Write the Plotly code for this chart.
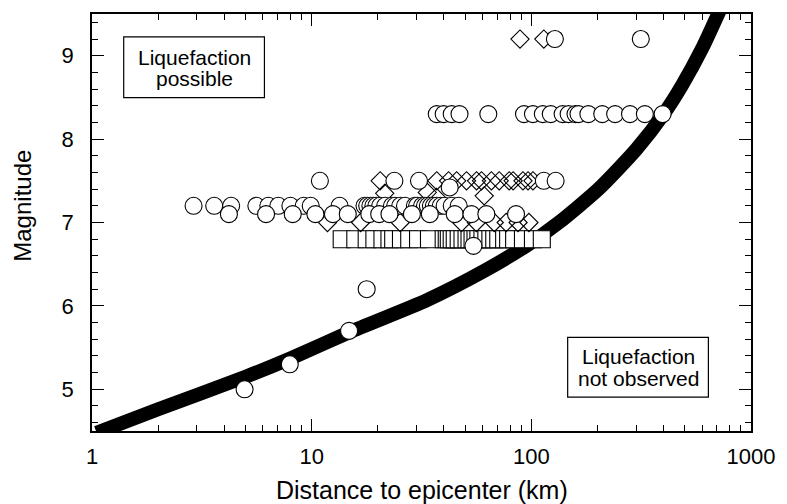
import plotly.graph_objects as go

# ---- data ----
circle_r_72 = [2.9, 3.6, 4.3, 5.6, 6.35, 7.05, 8.0, 9.2, 9.9, 13.4, 17.4, 17.9, 18.5, 19.1, 19.7,
               20.5, 21.6, 23.2, 24.0, 25.3, 26.6, 29.5, 30.2, 31.8, 32.8, 33.8, 34.9, 36.0, 37.1,
               38.7, 40.3, 43.4, 46.7]
circle_r_71 = [4.2, 6.2, 8.2, 10.4, 12.5, 14.6, 18.3, 20.3, 22.6, 28.6, 34.5, 44.8, 53.4, 62.4, 85.2]
circle_r_75 = [10.9, 23.8, 30.8, 114, 129]
circle_r_83 = [37.1, 39.9, 43.4, 47.1, 63.7, 92.6, 101.7, 112.8, 122.6, 138.8, 147.8, 158.9,
               163.9, 181.8, 210.3, 240.7, 281.3, 328.7, 396]
circle_r_other = [42.5, 128, 315, 4.95, 7.95, 14.8, 17.8, 54.5]
circle_m_other = [7.42, 9.2, 9.2, 5.0, 5.3, 5.7, 6.2, 6.72]

diamond_r_75 = [20.5, 37.1, 42.0, 45.7, 50.7, 56.3, 59.3, 65.8, 71.4, 79.3, 82.6, 91.6, 96.6, 101.7]
diamond_r_70 = [11.8, 16.7, 25.3, 48.1, 56.2, 67.8, 76.8, 87.0, 97.5]
diamond_r_other = [21.5, 33.6, 37.0, 61.0, 88.8, 114]
diamond_m_other = [7.35, 7.36, 7.3, 7.32, 9.2, 9.2]

square_r = [13.7, 15.8, 17.8, 19.3, 21.0, 22.6, 23.5, 25.5, 27.8, 30.5, 34.2, 39.9, 41.2, 42.1,
            43.4, 44.8, 46.7, 48.6, 50.7, 52.3, 54.0, 55.7, 57.4, 59.9, 62.4, 65.1, 67.8, 70.7,
            75.2, 78.4, 83.5, 91.6, 101.7, 111.6]
square_m = 6.8

curve_r = [1.05, 2, 5, 8, 15, 33.5, 61, 96, 132, 202, 301, 405, 484, 600, 720]
curve_m = [4.48, 4.76, 5.15, 5.37, 5.69, 6.07, 6.42, 6.73, 6.99, 7.40, 7.88, 8.32, 8.64, 9.09, 9.54]

x_tick_vals = [1, 10, 100, 1000]
x_tick_text = ["1", "10", "100", "1000"]
y_tick_vals = [5, 6, 7, 8, 9]

FONT = "Liberation Sans, Arial, Helvetica, sans-serif"

circ_x = circle_r_72 + circle_r_71 + circle_r_75 + circle_r_83 + circle_r_other
circ_y = ([7.2] * len(circle_r_72) + [7.1] * len(circle_r_71) + [7.5] * len(circle_r_75)
          + [8.3] * len(circle_r_83) + circle_m_other)
dia_x = diamond_r_75 + diamond_r_70 + diamond_r_other
dia_y = [7.5] * len(diamond_r_75) + [7.0] * len(diamond_r_70) + diamond_m_other

fig = go.Figure()
fig.add_trace(go.Scatter(x=curve_r, y=curve_m, mode="lines",
                         line=dict(color="black", width=14, shape="spline", smoothing=0.6),
                         hoverinfo="skip"))
fig.add_trace(go.Scatter(x=square_r, y=[square_m] * len(square_r), mode="markers",
                         marker=dict(symbol="square", size=17, color="white",
                                     line=dict(color="black", width=1.1))))
fig.add_trace(go.Scatter(x=dia_x, y=dia_y, mode="markers",
                         marker=dict(symbol="diamond-open", size=14, color="black",
                                     line=dict(color="black", width=1.1))))
fig.add_trace(go.Scatter(x=circ_x, y=circ_y, mode="markers",
                         marker=dict(symbol="circle", size=17, color="white",
                                     line=dict(color="black", width=1.1))))

# plot area in pixels: x 92..757, y 12..431
def px(x):
    return (x - 92) / 665.0

def py(y):
    return 1 - (y - 12) / 419.0

shapes = [
    dict(type="rect", xref="paper", yref="paper", x0=px(124), x1=px(266), y0=py(96), y1=py(35),
         line=dict(color="black", width=1.2), fillcolor="white"),
    dict(type="rect", xref="paper", yref="paper", x0=px(572), x1=px(714), y0=py(397), y1=py(337),
         line=dict(color="black", width=1.2), fillcolor="white"),
]

annotations = []
for txt, cx, cy in [("Liquefaction", 195, 56), ("possible", 195, 77),
                    ("Liquefaction", 643, 356), ("not observed", 643, 378)]:
    annotations.append(dict(text=txt, x=px(cx), y=py(cy), xref="paper", yref="paper",
                            xanchor="center", yanchor="middle", showarrow=False,
                            font=dict(family=FONT, size=21, color="black")))
annotations.append(dict(text="Distance to epicenter (km)", x=px(425), y=py(490), xref="paper",
                        yref="paper", xanchor="center", yanchor="middle", showarrow=False,
                        font=dict(family=FONT, size=25, color="black")))
annotations.append(dict(text="Magnitude", x=px(21), y=py(205), xref="paper", yref="paper",
                        xanchor="center", yanchor="middle", showarrow=False, textangle=-90,
                        font=dict(family=FONT, size=24, color="black")))

fig.update_layout(
    width=787, height=504,
    margin=dict(l=92, r=30, t=12, b=73),
    paper_bgcolor="white", plot_bgcolor="white",
    showlegend=False,
    shapes=shapes, annotations=annotations,
    font=dict(family=FONT, color="black"),
)
fig.update_xaxes(type="log", range=[0, 3], tickmode="array", tickvals=x_tick_vals,
                 ticktext=x_tick_text, ticks="inside", ticklen=12, tickwidth=1.2,
                 tickcolor="black", showline=True, linecolor="black", linewidth=1.5,
                 mirror="allticks", showgrid=False, zeroline=False,
                 tickfont=dict(family=FONT, size=22, color="black"), ticklabelstandoff=5,
                 minor=dict(tickmode="array",
                            tickvals=[2, 3, 4, 5, 6, 7, 8, 9, 20, 30, 40, 50, 60, 70, 80, 90,
                                      200, 300, 400, 500, 600, 700, 800, 900],
                            ticks="inside", ticklen=6, tickwidth=1, tickcolor="black",
                            showgrid=False))
fig.update_yaxes(range=[4.5, 9.5], tickmode="array", tickvals=y_tick_vals,
                 ticks="inside", ticklen=12, tickwidth=1.2, tickcolor="black",
                 showline=True, linecolor="black", linewidth=1.5, mirror="allticks",
                 showgrid=False, zeroline=False,
                 tickfont=dict(family=FONT, size=22, color="black"), ticklabelstandoff=12,
                 minor=dict(dtick=0.2, tick0=0, ticks="inside", ticklen=6, tickwidth=1,
                            tickcolor="black", showgrid=False))

fig.write_html("out.html")
